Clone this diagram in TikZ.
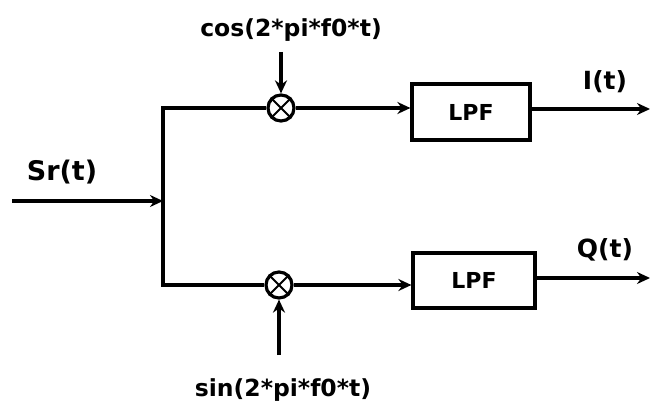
\documentclass[tikz,border=0pt]{standalone}
\usepackage{fontspec}
\setmainfont{DejaVu Sans}
\usetikzlibrary{arrows.meta}
\begin{document}
\begin{tikzpicture}[x=1pt,y=-1pt,
  wire/.style={line width=3.2pt},
  arr/.style={wire,-{Stealth[length=13pt,width=12pt]}},
  mixer/.style={circle,draw,line width=3.2pt,minimum size=26pt,inner sep=0pt},
  filt/.style={rectangle,draw,line width=3.2pt,inner sep=0pt,font=\bfseries\fontsize{22}{24}\selectfont},
  lab/.style={inner sep=0pt,font=\bfseries\fontsize{23.5}{26}\selectfont},
  biglab/.style={inner sep=0pt,font=\bfseries\fontsize{27}{30}\selectfont}]
\useasboundingbox (0,0) rectangle (656,417);
\fill[white] (0,0) rectangle (656,417);
% junction points
\coordinate (in) at (12,201);
\coordinate (j) at (163,201);
\coordinate (jt) at (163,108);
\coordinate (jb) at (163,285);
% mixers
\node[mixer] (m1) at (281,108) {};
\node[mixer] (m2) at (279,285) {};
\draw[line width=2pt] (m1.north west) -- (m1.south east) (m1.north east) -- (m1.south west);
\draw[line width=2pt] (m2.north west) -- (m2.south east) (m2.north east) -- (m2.south west);
% filters
\node[filt,minimum width=118pt,minimum height=56pt] (f1) at (471,112) {LPF};
\node[filt,minimum width=122pt,minimum height=55pt] (f2) at (474,280.5) {LPF};
% LO inputs
\coordinate (c1) at (281,52);
\coordinate (c2) at (279,355);
\node[lab] (cosl) at (291,30) {cos(2*pi*f0*t)};
\node[lab] (sinl) at (283,390) {sin(2*pi*f0*t)};
% outputs
\coordinate (o1) at (650,109);
\coordinate (o2) at (650,278);
\node[biglab] (srl) at (62,172) {Sr(t)};
\node[biglab,font=\bfseries\fontsize{25}{28}\selectfont] (il) at (605,82) {I(t)};
\node[biglab,font=\bfseries\fontsize{25}{28}\selectfont] (ql) at (605,250) {Q(t)};
% wiring
\draw[arr] (in) -- (j);
\draw[wire] (m2.west) -- (jb) -- (jt) -- (m1.west);
\draw[arr] (m1.east) -- (m1 -| f1.west);
\draw[arr] (m2.east) -- (m2 -| f2.west);
\draw[arr] (c1) -- (m1.north);
\draw[arr] (c2) -- (m2.south);
\draw[arr] (f1.east |- o1) -- (o1);
\draw[arr] (f2.east |- o2) -- (o2);
\end{tikzpicture}
\end{document}
